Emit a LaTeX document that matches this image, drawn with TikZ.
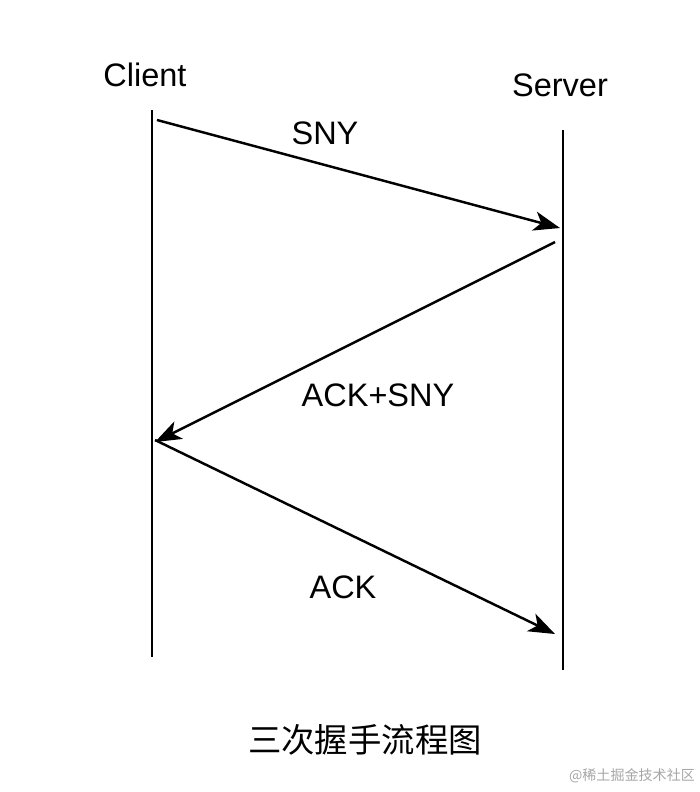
\documentclass[tikz,border=0pt]{standalone}
\usepackage{fontspec}
\setmainfont{Liberation Sans}
\newfontfamily\cjk{Noto Sans CJK SC}
\usetikzlibrary{arrows.meta}
\tikzset{
	msg/.style={line width=1.4pt, -{Stealth[length=15pt, width=11pt, inset=4pt]}},
	life/.style={line width=1.4pt},
	lbl/.style={font=\fontsize{18.5}{20}\selectfont}
}
\begin{document}
\begin{tikzpicture}[x=0.02cm, y=-0.02cm]
	\useasboundingbox (0, 0) rectangle (700, 792);
	\node[lbl] (client) at (145, 75) {Client};
	\node[lbl] (server) at (560, 85) {Server};
	\coordinate (c1) at (152, 110);
	\coordinate (c2) at (152, 657);
	\coordinate (s1) at (563, 130);
	\coordinate (s2) at (563, 670);
	\draw[life] (c1) -- (c2);
	\draw[life] (s1) -- (s2);

	\coordinate (a1) at (157, 120);
	\coordinate (a2) at (560, 228);
	\coordinate (b1) at (555, 242);
	\coordinate (b2) at (155, 442);
	\coordinate (d1) at (155, 440);
	\coordinate (d2) at (555, 634);
	\draw[msg] (a1) -- (a2);
	\draw[msg] (b1) -- (b2);
	\draw[msg] (d1) -- (d2);
	\node[lbl] (sny) at (325, 133) {SNY};
	\node[lbl] (acksny) at (378, 395) {ACK+SNY};
	\node[lbl] (ack) at (343, 587) {ACK};

	\node[font=\cjk\fontsize{19}{21}\selectfont] (title) at (365, 740) {三次握手流程图};
	\node[font=\cjk\fontsize{8}{10}\selectfont, text=gray!70] (mark) at (632, 776) {@稀土掘金技术社区};
\end{tikzpicture}
\end{document}
